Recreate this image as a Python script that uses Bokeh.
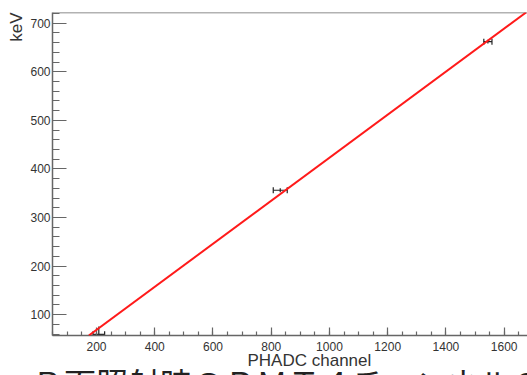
from bokeh.plotting import figure
from bokeh.layouts import column
from bokeh.models import (Range1d, FixedTicker, Slope, Span, Whisker, Title, Div,
                          TeeHead, ColumnDataSource)
from bokeh.embed import file_html
from bokeh.resources import INLINE

# ---- data ----
channel = [208, 831, 1544]
energy = [59.5, 356, 662]
channel_err = [20, 24, 14]
energy_err = [16, 4, 4]
fit_gradient = 0.443
fit_intercept = -20.0
x_ticks = [200, 400, 600, 800, 1000, 1200, 1400, 1600]
x_minor = list(range(50, 1701, 50))
y_ticks = [100, 200, 300, 400, 500, 600, 700]
y_minor = list(range(60, 721, 20))
x_title = "PHADC channel"
y_title = "keV"
caption = "Ｂ面照射時のＰＭＴ４チャンネルの校正"

src = ColumnDataSource(dict(
    x=channel, y=energy,
    xl=[c - e for c, e in zip(channel, channel_err)],
    xu=[c + e for c, e in zip(channel, channel_err)],
    yl=[v - e for v, e in zip(energy, energy_err)],
    yu=[v + e for v, e in zip(energy, energy_err)],
))

p = figure(width=527, height=366, output_backend="svg", toolbar_location=None,
           x_range=Range1d(49, 1680), y_range=Range1d(57, 722),
           min_border_left=52, min_border_right=0, min_border_top=12,
           min_border_bottom=31)
p.outline_line_color = None
p.xgrid.visible = False
p.ygrid.visible = False
p.background_fill_color = "white"
p.border_fill_color = "white"

axis_col = "#666666"
for ax in (p.xaxis[0], p.yaxis[0]):
    ax.axis_line_color = axis_col
    ax.axis_line_width = 1.5
    ax.major_tick_line_color = axis_col
    ax.minor_tick_line_color = axis_col
    ax.major_tick_line_width = 1.2
    ax.minor_tick_line_width = 1.2
    ax.major_tick_out = 0
    ax.minor_tick_out = 0
    ax.major_label_text_font = "Liberation Sans"
    ax.major_label_text_font_size = "12px"
    ax.major_label_text_color = "#333333"

p.xaxis[0].ticker = FixedTicker(ticks=x_ticks, minor_ticks=x_minor)
p.yaxis[0].ticker = FixedTicker(ticks=y_ticks, minor_ticks=y_minor)
p.xaxis[0].major_tick_in = 8
p.xaxis[0].minor_tick_in = 4
p.yaxis[0].major_tick_in = 14
p.yaxis[0].minor_tick_in = 7
p.xaxis[0].major_label_standoff = 6
p.yaxis[0].major_label_standoff = 2

top = Span(location=722, dimension="width", line_color=axis_col, line_width=1.5)
p.add_layout(top)

fit = Slope(gradient=fit_gradient, y_intercept=fit_intercept,
            line_color="#ff1a1a", line_width=2)
p.add_layout(fit)

wx = Whisker(source=src, base="y", lower="xl", upper="xu", dimension="width",
             line_color="#222222", line_width=1.2,
             lower_head=TeeHead(size=6, line_color="#222222", line_width=1.2),
             upper_head=TeeHead(size=6, line_color="#222222", line_width=1.2))
p.add_layout(wx)
p.segment(x0="x", y0="yl", x1="x", y1="yu", source=src,
          line_color="#222222", line_width=1.2)

p.add_layout(Title(text=y_title, align="right", standoff=3,
                   text_font="Liberation Sans", text_font_size="17px",
                   text_font_style="normal", text_color="#333333"), "left")
p.add_layout(Title(text=x_title, align="left", offset=195, standoff=-10,
                   text_font="Liberation Sans", text_font_size="17px",
                   text_font_style="normal", text_color="#333333"), "below")

cap = Div(text=("<div style=\"font-family:'Noto Sans CJK JP';font-size:32px;"
                "line-height:32px;color:#222222;white-space:nowrap;"
                "margin:0 0 0 32px;padding:0;\">" + caption + "</div>"),
          width=527, height=9, styles={"overflow": "hidden", "margin": "0",
                                       "padding": "0"})

open("out.html", "w").write(file_html(column(p, cap, spacing=0), INLINE))
